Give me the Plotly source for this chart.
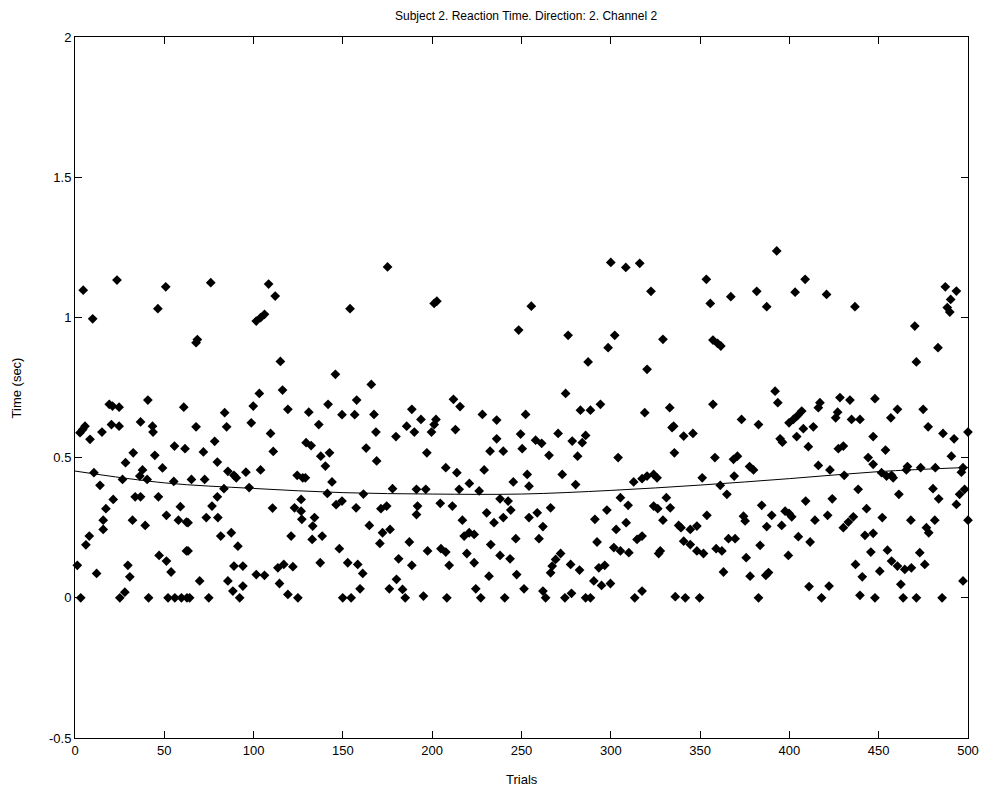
import plotly.graph_objects as go

# ---- data (trial number, reaction time in sec) ----
seg1_x = [4.6,23.5,50.8,46.4,9.9,19.2,21,24.7,40.8,60.9,5.6,4.3,2.8,8.4,15.1,20.4,24.7,36.7,43.4,43.7,55.7,61.6,32.6,28.3,44.7,49,37.8,36.3,10.6,14,26.6,40.4,55.3,21.4,33.7,36.7,46.7,17.3,59,15.8,15.8,32.2,39.3,51.2,57.9,62.4,8,6.1,1.3,12.1,47.1,51.2,62.4,29.6,30.7,53.8,3.2,25.1,27.9,41.2,52.1,55.9,59.6,62.7]
seg1_y = [1.097,1.133,1.109,1.031,0.995,0.69,0.684,0.68,0.705,0.68,0.612,0.60,0.589,0.565,0.591,0.618,0.612,0.627,0.612,0.591,0.541,0.532,0.517,0.482,0.508,0.463,0.456,0.434,0.446,0.401,0.422,0.422,0.415,0.351,0.36,0.36,0.36,0.318,0.325,0.277,0.244,0.277,0.258,0.294,0.277,0.27,0.22,0.189,0.116,0.087,0.151,0.131,0.167,0.116,0.075,0.092,0,0,0.02,0,0,0,0,0]

seg2_x = [76,108.4,112.1,101.5,103.9,106.1,68.5,67.8,115,116.2,103.2,83.8,99.8,119.2,67.8,84.9,98.7,109.5,78.2,71.9,111,79.7,85.6,89,90.3,95.7,103.9,65.2,72.6,83.4,97.5,124.4,127.5,79.7,76.7,110.6,122.9,126.6,127,73.5,80,63.3,87.5,81.6,121,91.2,63.3,89,94,101.5,106.1,113.6,116.9,122,69.8,85.6,114.5,88.4,94,92.2,64.2,74.9,119.2,124.8]
seg2_y = [1.124,1.119,1.076,0.987,0.999,1.011,0.921,0.91,0.843,0.741,0.729,0.66,0.684,0.672,0.61,0.61,0.624,0.586,0.558,0.52,0.522,0.484,0.451,0.437,0.428,0.448,0.456,0.422,0.422,0.389,0.393,0.437,0.428,0.36,0.327,0.32,0.321,0.309,0.28,0.286,0.286,0.268,0.232,0.22,0.22,0.184,0.167,0.113,0.113,0.083,0.08,0.107,0.119,0.111,0.06,0.06,0.051,0.024,0.042,0,0,0,0.012,0]

seg3_x = [175,154,145.8,165.9,157.7,130.9,141.7,149.5,156.6,167.4,188.6,136.5,168.5,179.7,185.7,190,129.4,132.2,137.6,142.5,140.2,163,168.9,129,143.9,141.3,161.5,177.8,191.2,126.6,146.2,149.5,157.4,171.3,174.5,191.2,134.1,133.1,164.8,172.2,176.4,132.8,138.4,148,170.7,187.2,137.3,152.7,158.3,161.1,181.2,188.6,180,183.4,159.6,176,184.9,149.9,154.6]
seg3_y = [1.18,1.031,0.797,0.761,0.705,0.662,0.69,0.653,0.653,0.654,0.672,0.618,0.591,0.575,0.612,0.591,0.553,0.543,0.505,0.517,0.47,0.534,0.488,0.428,0.413,0.372,0.37,0.389,0.387,0.351,0.332,0.345,0.321,0.318,0.327,0.297,0.286,0.256,0.258,0.232,0.244,0.208,0.22,0.175,0.194,0.199,0.125,0.125,0.119,0.087,0.139,0.116,0.066,0.03,0.032,0.032,0,0,0]

seg4_x = [202.6,201.1,255.5,248.4,211.9,215.6,228.1,236.1,252.3,193.7,202.1,201.1,199.6,213,236.1,249.5,232.4,239.8,250.4,197,207.6,213.8,229.1,220.8,245.4,253.2,254.2,196.4,215.1,226.3,238,242.5,244,191.8,204.5,211.3,216.9,230.5,234.6,239.8,254.2,217.9,220.7,223.5,197.4,204.9,207.6,232.8,246.8,219.4,223.5,238,243.6,209.5,231.8,247.3,224.4,251.4,195.1,208.2,227.2,240.6]
seg4_y = [1.058,1.05,1.04,0.955,0.708,0.682,0.654,0.634,0.654,0.636,0.636,0.618,0.591,0.6,0.567,0.584,0.523,0.523,0.532,0.517,0.464,0.446,0.456,0.408,0.413,0.44,0.398,0.387,0.387,0.381,0.353,0.345,0.313,0.327,0.337,0.327,0.277,0.303,0.268,0.286,0.286,0.22,0.232,0.226,0.167,0.175,0.163,0.19,0.211,0.158,0.125,0.151,0.139,0.116,0.077,0.083,0.032,0.032,0.006,0,0,0]

seg5_x = [300,308.4,316.2,276.1,302.2,298.5,287.3,320.3,274.7,283,288.6,294.2,319,270.5,257.9,261.3,278.4,284,285.9,265.4,281.4,304.1,272.8,280.3,312.8,317.5,320.3,266.3,258.8,305.4,309.7,297.8,291.1,308.6,303,262,259.8,292.3,301.7,305.4,310.1,314.7,317.5,271.9,269.1,277.5,267.2,266.3,282.5,293.3,296.6,290.5,294.8,299.8,262,263.5,274.3,278,285.9,288.6,313.4,317.5]
seg5_y = [1.196,1.178,1.193,0.936,0.936,0.892,0.841,0.815,0.729,0.669,0.669,0.69,0.66,0.586,0.562,0.551,0.559,0.553,0.579,0.508,0.505,0.5,0.44,0.404,0.413,0.425,0.434,0.321,0.303,0.357,0.33,0.313,0.28,0.268,0.244,0.254,0.211,0.199,0.179,0.167,0.161,0.208,0.22,0.158,0.137,0.119,0.113,0.089,0.099,0.107,0.116,0.06,0.044,0.051,0.024,0,0,0.016,0,0,0,0.024]

seg6_x = [353.5,322.5,355.7,367.2,381.7,329.2,357.2,359.8,361.6,333,357.2,335.2,334.3,340.8,346,373.2,382.7,335.6,358.3,368.7,370.9,377.7,379.9,324,325.9,351.2,369.1,361.3,365,331.1,333.3,324,326.3,329.2,353.8,374.3,375.2,384.5,338,339.3,344.5,348.2,340.8,344.5,365.9,369.6,383.6,327.7,326.8,348.2,351.9,359,362.2,375.8,378,363.1,336.1,341.7,349.7,382.7]
seg6_y = [1.136,1.093,1.05,1.074,1.093,0.922,0.919,0.907,0.898,0.678,0.69,0.612,0.607,0.577,0.586,0.636,0.618,0.517,0.5,0.494,0.505,0.468,0.456,0.44,0.428,0.428,0.434,0.401,0.369,0.357,0.321,0.327,0.318,0.277,0.294,0.291,0.274,0.33,0.258,0.25,0.244,0.256,0.202,0.19,0.211,0.211,0.187,0.167,0.158,0.167,0.158,0.175,0.167,0.143,0.077,0.092,0.004,0,0,0]

seg7_x = [392.9,408.8,403.2,420.8,387.3,436.7,392,393.5,417.1,416.2,428.3,433.9,447.9,406.9,404.6,402.2,399.8,427,425.9,434.8,439.5,407.8,413.4,394.8,396.1,404.1,446.9,410.6,427.4,430.2,444.1,416.2,422.7,430.7,446.9,438.5,390.1,397.6,399.8,401.3,409.1,424,421.4,387.3,395.7,414.3,430.2,433,435.8,443.2,442.3,446.9,405,411.6,399.4,445.6,388.3,386.8,437,440.8,411,422.2,418,439.5,447.9]
seg7_y = [1.237,1.136,1.09,1.082,1.038,1.038,0.737,0.696,0.696,0.678,0.714,0.705,0.71,0.666,0.65,0.636,0.624,0.662,0.642,0.636,0.636,0.603,0.61,0.567,0.555,0.575,0.575,0.539,0.532,0.541,0.5,0.472,0.456,0.437,0.476,0.387,0.294,0.309,0.301,0.289,0.345,0.353,0.294,0.254,0.258,0.277,0.25,0.27,0.289,0.318,0.223,0.23,0.218,0.199,0.151,0.163,0.09,0.08,0.119,0.075,0.04,0.042,0,0.009,0]

seg8_x = [487.3,493.5,490.3,488.4,489.8,470.2,483.2,471.1,460.5,456.8,474.9,477.7,486,492.2,500,453.8,490.7,451.6,454.4,458.1,457.2,466.1,465.5,473.5,481.7,497.2,496.3,461.3,480.4,483.6,498.1,495.3,493.5,500,452,468,481.4,476.7,478,454.9,457.2,460.5,464.6,468.3,473,475.8,450.6,462.4,497.2,463.7,471.1,485.5]
seg8_y = [1.109,1.094,1.064,1.035,1.019,0.969,0.892,0.841,0.672,0.642,0.672,0.61,0.586,0.567,0.591,0.527,0.505,0.446,0.434,0.428,0.437,0.468,0.456,0.464,0.464,0.464,0.448,0.369,0.389,0.353,0.387,0.369,0.333,0.277,0.286,0.277,0.277,0.25,0.232,0.17,0.131,0.113,0.101,0.107,0.161,0.119,0.095,0.048,0.06,0,0,0]

# fitted trend curve
trend_x = [0, 50, 100, 150, 200, 250, 300, 350, 400, 450, 500]
trend_y = [0.452, 0.41, 0.39, 0.375, 0.37, 0.37, 0.383, 0.402, 0.425, 0.45, 0.465]

x_ticks = [0, 50, 100, 150, 200, 250, 300, 350, 400, 450, 500]
y_ticks = [-0.5, 0, 0.5, 1, 1.5, 2]
y_tick_text = ["-0.5", "0", "0.5", "1", "1.5", "2"]

xs_all = [seg1_x, seg2_x, seg3_x, seg4_x, seg5_x, seg6_x, seg7_x, seg8_x]
ys_all = [seg1_y, seg2_y, seg3_y, seg4_y, seg5_y, seg6_y, seg7_y, seg8_y]
trials, times = [], []
for i, (a, b) in enumerate(zip(xs_all, ys_all)):
    if len(a) != len(b):
        raise ValueError(f"segment {i+1}: {len(a)} vs {len(b)}")
    trials += a
    times += b

FONT = "Liberation Sans, Arial, sans-serif"

fig = go.Figure()
fig.add_trace(go.Scatter(
    x=trials, y=times, mode="markers",
    marker=dict(symbol="diamond", size=7.5, color="black", line=dict(width=0)),
    cliponaxis=False, showlegend=False,
))
fig.add_trace(go.Scatter(
    x=trend_x, y=trend_y, mode="lines",
    line=dict(color="black", width=1, shape="spline"),
    showlegend=False,
))

axis_common = dict(
    showline=True, linecolor="black", linewidth=1, mirror="ticks",
    ticks="inside", ticklen=7, tickcolor="black", tickwidth=1,
    showgrid=False, zeroline=False,
    tickfont=dict(family=FONT, size=13, color="black"),
)
fig.update_xaxes(range=[0, 500], tickmode="array", tickvals=x_ticks, **axis_common)
fig.update_yaxes(range=[-0.5, 2], tickmode="array", tickvals=y_ticks,
                 ticktext=y_tick_text, **axis_common)

# the page body adds an 8 px offset, so the figure is sized to sit in the window
fig.update_layout(
    width=983, height=789,
    margin=dict(l=67, r=21, t=29, b=59),
    paper_bgcolor="white", plot_bgcolor="white",
    title=dict(text="Subject 2. Reaction Time. Direction: 2. Channel 2",
               x=0.527, xanchor="center", y=0.995, yanchor="top",
               font=dict(family=FONT, size=12, color="black")),
    annotations=[
        dict(text="Trials", xref="paper", yref="paper", x=0.5, y=-0.045,
             xanchor="center", yanchor="top", showarrow=False,
             font=dict(family=FONT, size=13, color="black")),
        dict(text="Time (sec)", xref="paper", yref="paper", x=-0.065, y=0.5,
             xanchor="center", yanchor="middle", textangle=-90, showarrow=False,
             font=dict(family=FONT, size=13, color="black")),
    ],
)

fig.write_html("out.html")
